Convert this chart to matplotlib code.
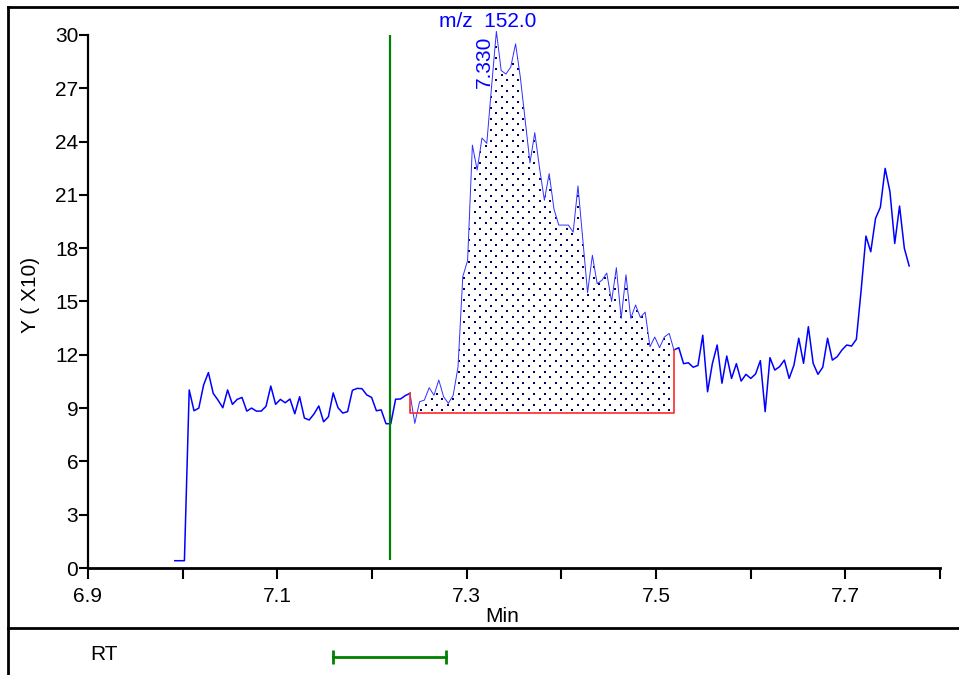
import numpy as np
import matplotlib
matplotlib.use("Agg")
import matplotlib.pyplot as plt
from matplotlib.lines import Line2D
from matplotlib.transforms import blended_transform_factory

plt.rcParams['font.family'] = ['Liberation Sans', 'DejaVu Sans']

## scan timing (min) of the extracted ion trace
scan_start = 6.9917
scan_step = 0.00507

## intensity per scan, Y (X10)
intensity = [
    0.41, 0.41, 0.41, 10.02, 8.85, 9.0, 10.3, 11.0, 9.83, 9.45,
    9.02, 10.02, 9.21, 9.49, 9.6, 8.83, 9.0, 8.83, 8.83, 9.1,
    10.24, 9.21, 9.49, 9.3, 9.51, 8.68, 9.64, 8.44, 8.33, 8.67,
    9.12, 8.23, 8.51, 9.85, 9.02, 8.72, 8.8, 10.0, 10.11, 10.09,
    9.74, 9.6, 8.85, 8.9, 8.12, 8.12, 9.5, 9.51, 9.7, 9.83,
    8.14, 9.36, 9.45, 10.15, 9.72, 10.58, 9.64, 9.27, 9.72, 11.3,
    16.4, 17.3, 23.8, 22.4, 24.2, 23.9, 27.1, 30.2, 28.0, 27.8,
    28.2, 29.5, 27.6, 25.2, 22.8, 24.5, 22.5, 20.7, 22.2, 20.2,
    19.3, 19.3, 19.3, 18.9, 21.5, 18.5, 15.5, 17.6, 16.0, 16.2,
    16.6, 15.0, 16.9, 14.05, 16.5, 14.05, 14.8, 14.1, 14.4, 12.45,
    13.0, 12.4, 13.0, 13.2, 12.27, 12.4, 11.5, 11.55, 11.3, 11.4,
    13.1, 9.92, 11.5, 12.55, 10.4, 11.93, 10.67, 11.5, 10.52, 10.9,
    10.67, 10.92, 11.67, 8.8, 11.84, 11.14, 11.33, 11.7, 10.67, 11.42,
    12.93, 11.52, 13.58, 11.52, 10.9, 11.3, 12.93, 11.7, 11.89, 12.27,
    12.55, 12.49, 12.87, 15.64, 18.68, 17.8, 19.68, 20.3, 22.49, 21.18,
    18.27, 20.37, 17.99, 17.0,
]

## integrated peak (scan indices) and its baseline
peak_start = 49
peak_end = 104
baseline_level = 8.75
apex_label = "7.330"
mz_label = "m/z  152.0"

## expected retention time and window (min)
expected_rt = 7.2185
rt_window = 0.06

x_major = [6.9, 7.1, 7.3, 7.5, 7.7]
x_minor = [7.0, 7.2, 7.4, 7.6, 7.8]
y_ticks = [0, 3, 6, 9, 12, 15, 18, 21, 24, 27, 30]

times = scan_start + scan_step * np.arange(len(intensity))
intensity = np.array(intensity)

W, H = 959, 675
fig = plt.figure(figsize=(W / 100, H / 100), dpi=100)
ax = fig.add_axes([88 / W, 1 - 568 / H, (940 - 88) / W, (568 - 24.3) / H])

blue = "#0000ff"
fs = 15

# trace outside and inside the integrated peak
ax.plot(times[:peak_start + 1], intensity[:peak_start + 1], color=blue, lw=1.1)
ax.plot(times[peak_end:], intensity[peak_end:], color=blue, lw=1.1)
ax.plot(times[peak_start:peak_end + 1], intensity[peak_start:peak_end + 1],
        color="#3030ff", lw=0.7)

# dotted fill of the integrated area
pt = times[peak_start:peak_end + 1]
pv = intensity[peak_start:peak_end + 1]
poly = ax.fill_between(pt, pv, baseline_level, facecolor="none", edgecolor="none")
dx, dy = 10.8 / 946, 5.5 / 17.77
gx, gy = [], []
for r, yy in enumerate(np.arange(baseline_level + 0.14, pv.max() + dy, dy)):
    off = 0 if r % 2 == 0 else dx / 2
    for xx in np.arange(pt[0] + off, pt[-1], dx):
        gx.append(xx)
        gy.append(yy)
dots = ax.scatter(gx, gy, s=4.6, marker="s", color="#000060", linewidths=0)
dots.set_clip_path(poly.get_paths()[0], ax.transData)

# baseline drop lines
ax.plot([pt[0], pt[0], pt[-1], pt[-1]], [pv[0], baseline_level, baseline_level, pv[-1]],
        color="#ff2a2a", lw=1.2)

# expected RT marker
ax.vlines(expected_rt, 0.45, 30, color="#008000", lw=1.6)

# labels on the peak
apex = peak_start + int(np.argmax(pv))
ax.text(times[apex] - 0.0128, 27.0, apex_label, rotation=90, ha="center", va="bottom",
        color=blue, fontsize=fs)
ax.text(7.3218, 30.75, mz_label, ha="center", va="center", color=blue, fontsize=fs)

ax.set_xlim(6.9, 7.8)
ax.set_ylim(0, 30.6)
ax.spines["top"].set_visible(False)
ax.spines["right"].set_visible(False)
ax.spines["left"].set_bounds(0, 30)
ax.spines["left"].set_linewidth(1.6)
ax.spines["bottom"].set_linewidth(2.0)
ax.set_xticks(x_major)
ax.set_xticks(x_minor, minor=True)
ax.set_xticklabels([f"{v:.1f}" for v in x_major])
ax.set_yticks(y_ticks)
ax.tick_params(axis="x", which="both", direction="out", length=8, width=1.5, pad=6, labelsize=fs)
ax.tick_params(axis="y", direction="out", length=6.5, width=1.5, pad=0.5, labelsize=fs)

fig.text(30 / W, 1 - 295 / H, "Y ( X10)", rotation=90, ha="center", va="center", fontsize=fs)
fig.text(502 / W, 1 - 617 / H, "Min", ha="center", va="center", fontsize=fs)

# outer frame and RT panel
fig.add_artist(Line2D([7.5 / W, 1], [1 - 7 / H, 1 - 7 / H], color="black", lw=2))
fig.add_artist(Line2D([7.5 / W, 7.5 / W], [0, 1 - 7 / H], color="black", lw=2))
fig.add_artist(Line2D([7.5 / W, 1], [1 - 628 / H, 1 - 628 / H], color="black", lw=2))

fig.text(90 / W, 1 - 655 / H, "RT", ha="left", va="center", fontsize=fs)
tr = blended_transform_factory(ax.transData, fig.transFigure)
rt_y = 1 - 657 / H
ax.plot([expected_rt - rt_window, expected_rt + rt_window], [rt_y, rt_y], transform=tr,
        color="#008000", lw=2, marker="|", markersize=10, markeredgewidth=2, clip_on=False)

fig.savefig("out.png", dpi=100)
